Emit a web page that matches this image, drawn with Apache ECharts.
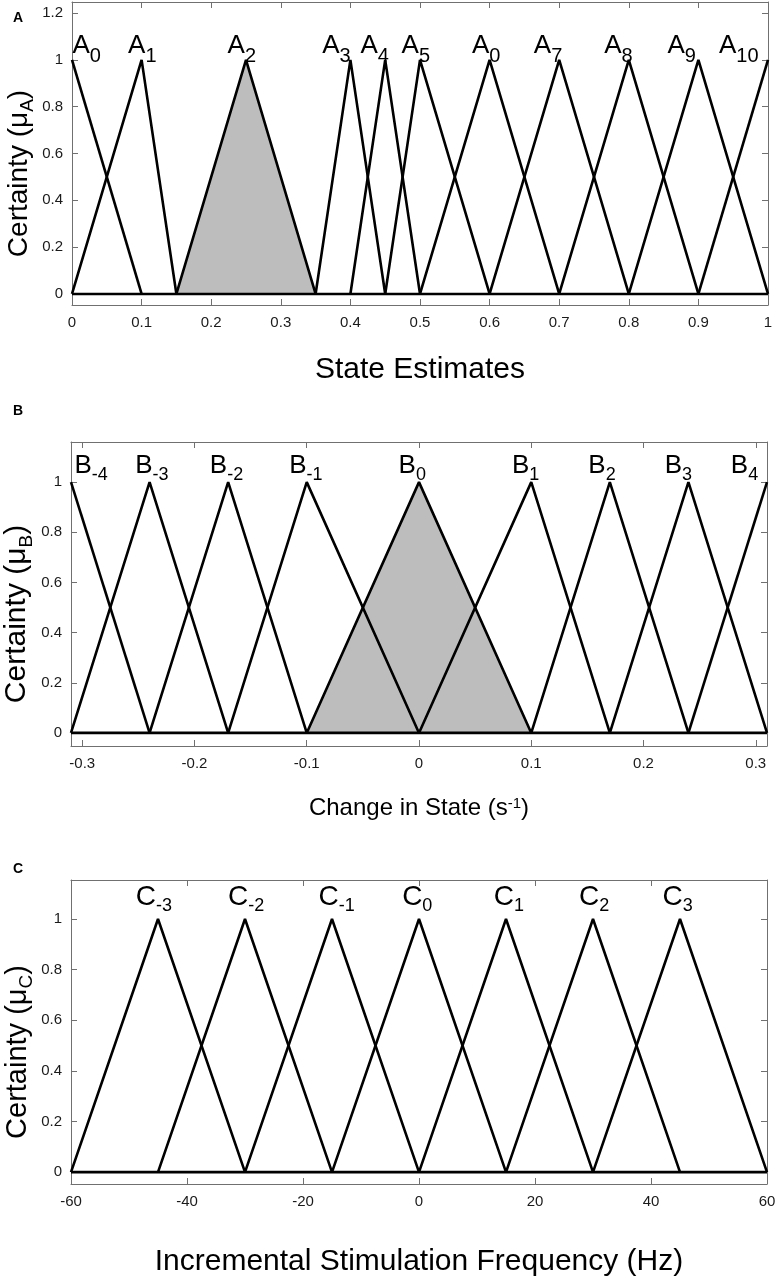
<!DOCTYPE html>
<html>
<head>
<meta charset="utf-8">
<script src="https://cdn.jsdelivr.net/npm/echarts@6.0.0/dist/echarts.min.js"></script>
<style>
html,body{margin:0;padding:0;background:#fff;}
#main{width:777px;height:1278px;}
</style>
</head>
<body>
<div id="main"></div>
<script>
// panel A - state estimates
const aSubs = ['0', '1', '2', '3', '4', '5', '0', '7', '8', '9', '10']
const aFeet = [[0, 0, 0.1], [0, 0.1, 0.15], [0.15, 0.25, 0.35], [0.35, 0.4, 0.45], [0.4, 0.45, 0.5], [0.45, 0.5, 0.6],
    [0.5, 0.6, 0.7], [0.6, 0.7, 0.8], [0.7, 0.8, 0.9], [0.8, 0.9, 1], [0.9, 1, 1]]
const aLabelX = [0.021, 0.101, 0.244, 0.38, 0.435, 0.494, 0.595, 0.684, 0.785, 0.876, 0.958]
const aXTicks = [0, 0.1, 0.2, 0.3, 0.4, 0.5, 0.6, 0.7, 0.8, 0.9, 1]
const aYTicks = [0, 0.2, 0.4, 0.6, 0.8, 1, 1.2]
const aShaded = 2

// panel B - change in state
const bSubs = ['-4', '-3', '-2', '-1', '0', '1', '2', '3', '4']
const bFeet = [[-0.31, -0.31, -0.24], [-0.31, -0.24, -0.17], [-0.24, -0.17, -0.1], [-0.17, -0.1, 0], [-0.1, 0, 0.1],
    [0, 0.1, 0.17], [0.1, 0.17, 0.24], [0.17, 0.24, 0.31], [0.24, 0.31, 0.31]]
const bLabelX = [-0.292, -0.238, -0.1715, -0.1007, -0.006, 0.095, 0.163, 0.231, 0.29]
const bXTicks = [-0.3, -0.2, -0.1, 0, 0.1, 0.2, 0.3]
const bYTicks = [0, 0.2, 0.4, 0.6, 0.8, 1]
const bShaded = 4

// panel C - stimulation frequency
const cSubs = ['-3', '-2', '-1', '0', '1', '2', '3']
const cFeet = [[-60, -45, -30], [-45, -30, -15], [-30, -15, 0], [-15, 0, 15], [0, 15, 30], [15, 30, 45], [30, 45, 60]]
const cLabelX = [-45.7, -29.8, -14.2, -0.3, 15.5, 30.2, 44.6]
const cXTicks = [-60, -40, -20, 0, 20, 40, 60]
const cYTicks = [0, 0.2, 0.4, 0.6, 0.8, 1]

const FONT = '"Liberation Sans", Arial, Helvetica, sans-serif'
const BOX = '#707070'

// triangle vertices from [left foot, peak, right foot]
function triangle(f){
    const pts = []
    if(f[0] < f[1]) pts.push([f[0], 0])
    pts.push([f[1], 1])
    if(f[2] > f[1]) pts.push([f[2], 0])
    return pts
}

const panels = [
    {
        letter: 'A', top: 2, height: 303, left: 72, right: 9,
        xMin: 0, xMax: 1, yMin: -0.047, yMax: 1.247,
        xTicks: aXTicks, yTicks: aYTicks, feet: aFeet, subs: aSubs, labelX: aLabelX, shaded: aShaded,
        letterTop: 11, label: 'A', labelY: 1.115, mainSize: 26, subSize: 20, subLine: 34,
        xName: 'State Estimates', xNameSize: 30, xNameGap: 50,
        yName: '{m|Certainty (μ}{s|A}{m|)}', yNameSize: 28
    },
    {
        letter: 'B', top: 442, height: 304, left: 71, right: 10,
        xMin: -0.31, xMax: 0.31, yMin: -0.052, yMax: 1.16,
        xTicks: bXTicks, yTicks: bYTicks, feet: bFeet, subs: bSubs, labelX: bLabelX, shaded: bShaded,
        letterTop: 404, label: 'B', labelY: 1.116, mainSize: 26, subSize: 18, subLine: 31,
        xName: 'Change in State (s{sup|-1})', xNameSize: 24, xNameGap: 50,
        yName: '{m|Certainty (μ}{s|B}{m|)}', yNameSize: 30
    },
    {
        letter: 'C', top: 880, height: 304, left: 71, right: 10,
        xMin: -60, xMax: 60, yMin: -0.047, yMax: 1.154,
        xTicks: cXTicks, yTicks: cYTicks, feet: cFeet, subs: cSubs, labelX: cLabelX, shaded: -1,
        letterTop: 862, label: 'C', labelY: 1.142, mainSize: 28, subSize: 18, subLine: 32,
        xName: 'Incremental Stimulation Frequency (Hz)', xNameSize: 30, xNameGap: 63,
        yName: '{m|Certainty (μ}{s|C}{m|)}', yNameSize: 29
    }
]

const grid = [], xAxis = [], yAxis = [], series = [], graphic = []

panels.forEach((p, i) => {
    grid.push({left: p.left, right: p.right, top: p.top, height: p.height, outerBoundsMode: 'none', containLabel: false})
    const tick = {show: true, inside: true, length: 6, lineStyle: {color: BOX, width: 1}}
    const line = {show: true, onZero: false, lineStyle: {color: BOX, width: 1}}
    // bottom + top x axes
    xAxis.push({
        type: 'value', gridIndex: i, position: 'bottom', min: p.xMin, max: p.xMax,
        axisLine: line, splitLine: {show: false},
        axisTick: Object.assign({customValues: p.xTicks}, tick),
        axisLabel: {customValues: p.xTicks, margin: 10, fontSize: 15, color: '#1a1a1a', fontFamily: FONT},
        name: p.xName, nameLocation: 'middle', nameGap: p.xNameGap, nameMoveOverlap: false,
        nameTextStyle: {fontSize: p.xNameSize, color: '#000', fontFamily: FONT, lineHeight: p.xNameSize,
            rich: {sup: {fontSize: 15, lineHeight: 15, verticalAlign: 'top', color: '#000', fontFamily: FONT}}}
    })
    xAxis.push({
        type: 'value', gridIndex: i, position: 'top', min: p.xMin, max: p.xMax,
        axisLine: line, splitLine: {show: false}, axisLabel: {show: false},
        axisTick: Object.assign({customValues: p.xTicks}, tick)
    })
    // left + right y axes
    const subLine = Math.round(p.yNameSize * 0.8 + 10)
    yAxis.push({
        type: 'value', gridIndex: i, position: 'left', min: p.yMin, max: p.yMax,
        axisLine: line, splitLine: {show: false},
        axisTick: Object.assign({customValues: p.yTicks}, tick),
        axisLabel: {customValues: p.yTicks, margin: 9, fontSize: 15, color: '#1a1a1a', fontFamily: FONT},
        name: p.yName, nameLocation: 'middle', nameGap: 35, nameMoveOverlap: false,
        nameTextStyle: {fontSize: p.yNameSize, color: '#000', fontFamily: FONT, padding: [0, 40, 0, 0],
            rich: {
                m: {fontSize: p.yNameSize, lineHeight: p.yNameSize, verticalAlign: 'top', color: '#000', fontFamily: FONT},
                s: {fontSize: 19, lineHeight: subLine, verticalAlign: 'bottom', color: '#000', fontFamily: FONT}
            }}
    })
    yAxis.push({
        type: 'value', gridIndex: i, position: 'right', min: p.yMin, max: p.yMax,
        axisLine: line, splitLine: {show: false}, axisLabel: {show: false},
        axisTick: Object.assign({customValues: p.yTicks}, tick)
    })

    const ax = {xAxisIndex: 2 * i, yAxisIndex: 2 * i}
    // shaded membership function
    if(p.shaded >= 0){
        series.push(Object.assign({
            type: 'line', data: triangle(p.feet[p.shaded]), symbol: 'none', silent: true, z: 1,
            lineStyle: {width: 1, color: '#c4c4c4'}, areaStyle: {color: '#bdbdbd', opacity: 1}
        }, ax))
    }
    // base line
    series.push(Object.assign({
        type: 'line', data: [[p.xMin, 0], [p.xMax, 0]], symbol: 'none', silent: true, z: 3,
        lineStyle: {width: 2.7, color: '#000'}
    }, ax))
    p.feet.forEach(f => {
        series.push(Object.assign({
            type: 'line', data: triangle(f), symbol: 'none', silent: true, z: 3,
            lineStyle: {width: 2.6, color: '#000'}
        }, ax))
    })
    // set names
    series.push(Object.assign({
        type: 'scatter', symbolSize: 0, silent: true, z: 4,
        itemStyle: {color: '#000', opacity: 1},
        data: p.labelX.map(x => [x, p.labelY]),
        label: {
            show: true, position: 'inside', align: 'center', verticalAlign: 'top',
            color: '#000', textBorderWidth: 0, opacity: 1,
            formatter: d => '{m|' + p.label + '}{s|' + p.subs[d.dataIndex] + '}',
            rich: {
                m: {fontSize: p.mainSize, lineHeight: p.mainSize, verticalAlign: 'top', color: '#000', textBorderWidth: 0, fontFamily: FONT},
                s: {fontSize: p.subSize, lineHeight: p.subLine, verticalAlign: 'bottom', color: '#000', textBorderWidth: 0, fontFamily: FONT}
            }
        }
    }, ax))
    graphic.push({type: 'text', left: 13, top: p.letterTop,
        style: {text: p.letter, fontSize: 14, fontWeight: 'bold', fill: '#000', fontFamily: FONT}})
})

const chart = echarts.init(document.getElementById('main'))
chart.setOption({
    animation: false,
    backgroundColor: '#fff',
    grid: grid,
    xAxis: xAxis,
    yAxis: yAxis,
    series: series,
    graphic: graphic
})
</script>
</body>
</html>
